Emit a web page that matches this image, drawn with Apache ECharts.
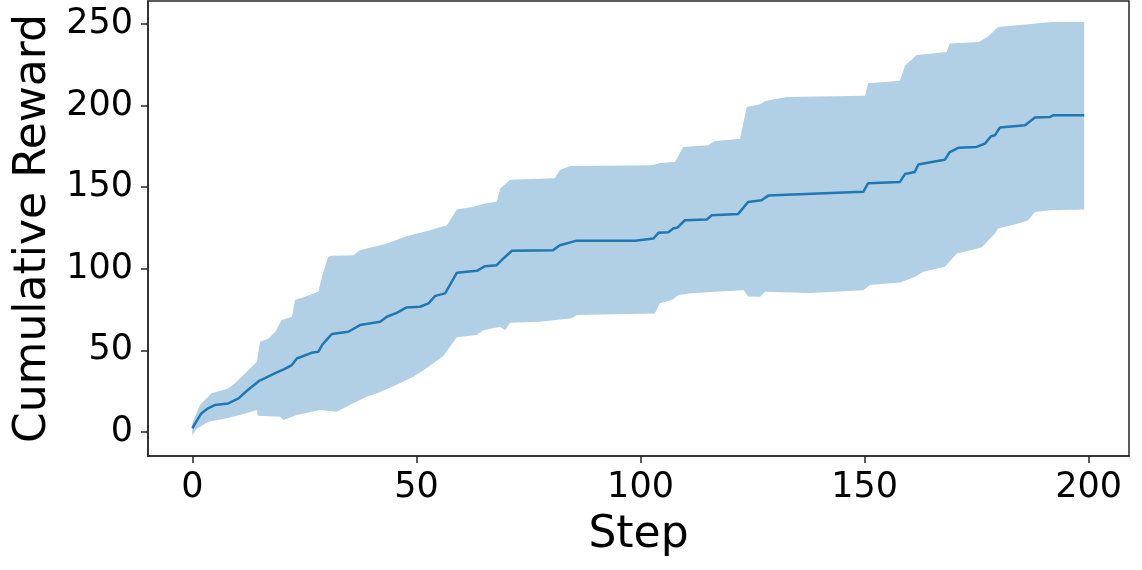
<!DOCTYPE html>
<html>
<head>
<meta charset="utf-8">
<script src="https://cdn.jsdelivr.net/npm/echarts@6/dist/echarts.min.js"></script>
<style>
  html, body { margin: 0; padding: 0; background: #fff; }
  #chart { width: 1142px; height: 570px; }
</style>
</head>
<body>
<div id="chart"></div>
<script>
// mean cumulative reward (step, value)
const meanSteps = [0, 1, 2, 3.5, 5, 8, 10.3, 12.5, 15, 16.2, 18.5, 20.5, 22.2, 23.3, 26.6, 28.1, 29, 31.1, 34.8, 37.4,
  41.9, 43.4, 45.6, 47.8, 50.8, 52.7, 54.2, 56.4, 59, 63.5, 65.3, 67.9, 69.4, 71.3, 80.5, 82, 85.8, 98.8, 102.9, 104,
  106.2, 107.3, 108.3, 109.9, 114.8, 115.9, 121.8, 124, 127, 128.5, 132.6, 149.7, 150.8, 157.9, 159, 161.2, 162, 165,
  167.9, 169, 170.9, 175, 176.9, 178.2, 179.1, 180.2, 185.8, 188, 191.4, 192.1, 199]
const meanVals = [2.3, 7, 11.4, 14.5, 16.5, 17.5, 20.6, 26, 31.5, 33, 36, 38.5, 41, 45, 48.5, 49.1, 53.5, 60, 61.4, 65.5,
  67.5, 70.6, 73, 76.3, 76.7, 78.8, 83.4, 84.9, 97.5, 98.7, 101.6, 102.2, 106.3, 111, 111.4, 114.4, 117.2, 117.2, 118.5, 122,
  122.3, 124.7, 125.3, 129.7, 130.2, 132.8, 133.6, 140.9, 142, 144.8, 145.3, 147.1, 152.4, 153.2, 158, 159.3, 163.9, 165.4,
  166.7, 171.5, 174.1, 174.6, 176.7, 181.2, 181.8, 186.5, 187.9, 192.6, 193, 194, 194]

// upper edge of the shaded band
const upperSteps = [0, 1.7, 4.3, 8, 9.5, 11, 14.4, 15.1, 17, 18.5, 19.9, 22.2, 22.9, 25.1, 28.1, 28.9, 30.3, 31.1, 35.9,
  37.4, 41.9, 43.4, 47.8, 53, 56.8, 59, 62.7, 65.3, 67.9, 68.7, 70.9, 80.9, 82, 84.3, 102.5, 104.3, 107.7, 109.5, 115.1,
  116.6, 122.2, 123.7, 126.7, 127.8, 132.6, 150.1, 150.8, 157.9, 159, 161.6, 168.3, 169, 175.5, 177.6, 179.8, 186.5,
  191.7, 199]
const upperVals = [5.5, 16.5, 23.7, 26.7, 29.8, 33.8, 43, 55.3, 57.3, 61.4, 68.5, 70.6, 80.8, 82.8, 85.9, 95, 107.3, 108,
  108.3, 111.4, 114.4, 115.5, 119.9, 123.6, 126.7, 136.3, 137.9, 140, 141, 149.1, 154.5, 155.5, 160.5, 163, 163.4, 164.8,
  165.4, 174.6, 175.6, 178.2, 179.7, 199.1, 200.7, 202.8, 205.2, 206, 213.6, 215.2, 224.3, 231, 232.7, 237.9, 238.9,
  242.4, 248, 249.8, 251.1, 251.1]

// lower edge of the shaded band
const lowerSteps = [0, 1, 3.6, 7.7, 10.6, 14.4, 14.6, 19.6, 20.3, 23.3, 28.5, 32.2, 35.9, 38.9, 41.5, 46.3, 49.3, 52.7,
  56, 59, 63.5, 64.9, 68.7, 69.8, 70.9, 77.6, 84.6, 85.8, 103.2, 104.3, 107, 108.4, 110.7, 116.6, 123, 124, 126.7,
  127.8, 137.8, 149.7, 151.2, 157.9, 161.2, 163.1, 167.9, 170.6, 176.1, 179.1, 179.8, 184.3, 186.5, 188, 191.4, 199]
const lowerVals = [-2, 2, 6.3, 8.4, 10.4, 13.5, 10, 9.4, 7.3, 10.4, 13.5, 12.4, 17.6, 21.6, 24, 29.8, 33.8, 40,
  46.5, 58, 59.4, 62.4, 64.4, 62.4, 66.9, 67.5, 69.6, 71.6, 72.6, 78.8, 80.8, 83.8, 84.9, 85.9, 86.9, 83, 82.8,
  85.9, 85.2, 86.9, 90, 91.5, 95, 98.1, 101.2, 109.4, 113, 121.6, 124.7, 127.7, 129.7, 134.8, 135.9, 136.3]

const xTicks = [0, 50, 100, 150, 200]
const yTicks = [0, 50, 100, 150, 200, 250]

const myChart = echarts.init(document.getElementById('chart'))

const font = 'DejaVu Sans'
const frame = { color: '#262626', width: 1.5 }

let option = {
    animation: false,
    grid: {
        left: 148,
        right: 13,
        top: 1,
        bottom: 114,
        show: true,
        borderColor: frame.color,
        borderWidth: frame.width
    },
    xAxis: {
        type: 'value',
        min: -9.9,
        max: 209,
        name: 'Step',
        nameLocation: 'middle',
        nameGap: 58,
        nameTextStyle: { fontFamily: font, fontSize: 44, color: '#000' },
        axisLine: { show: true, onZero: false, lineStyle: frame },
        splitLine: { show: false },
        axisTick: { show: true, length: 7, customValues: xTicks, lineStyle: frame },
        axisLabel: { customValues: xTicks, margin: 14, fontFamily: font, fontSize: 35, color: '#000' }
    },
    yAxis: {
        type: 'value',
        min: -14.7,
        max: 264,
        name: 'Cumulative Reward',
        nameLocation: 'middle',
        nameGap: 92,
        nameTextStyle: { fontFamily: font, fontSize: 44, color: '#000' },
        axisLine: { show: true, onZero: false, lineStyle: frame },
        splitLine: { show: false },
        axisTick: { show: true, length: 7, customValues: yTicks, lineStyle: frame },
        axisLabel: { customValues: yTicks, margin: 15, fontFamily: font, fontSize: 35, color: '#000' }
    },
    series: [
        {
            // shaded band between lower and upper
            type: 'custom',
            data: [[0, 0]],
            z: 1,
            renderItem: function (params, api) {
                const pts = []
                for (let i = 0; i < upperSteps.length; i++) {
                    pts.push(api.coord([upperSteps[i], upperVals[i]]))
                }
                for (let i = lowerSteps.length - 1; i >= 0; i--) {
                    pts.push(api.coord([lowerSteps[i], lowerVals[i]]))
                }
                return {
                    type: 'polygon',
                    shape: { points: pts },
                    style: { fill: 'rgba(31,119,180,0.35)', stroke: null }
                }
            }
        },
        {
            type: 'line',
            symbol: 'none',
            z: 3,
            data: meanSteps.map((s, i) => [s, meanVals[i]]),
            lineStyle: { color: '#1f77b4', width: 2.5 }
        }
    ]
}
option && myChart.setOption(option)
</script>
</body>
</html>
